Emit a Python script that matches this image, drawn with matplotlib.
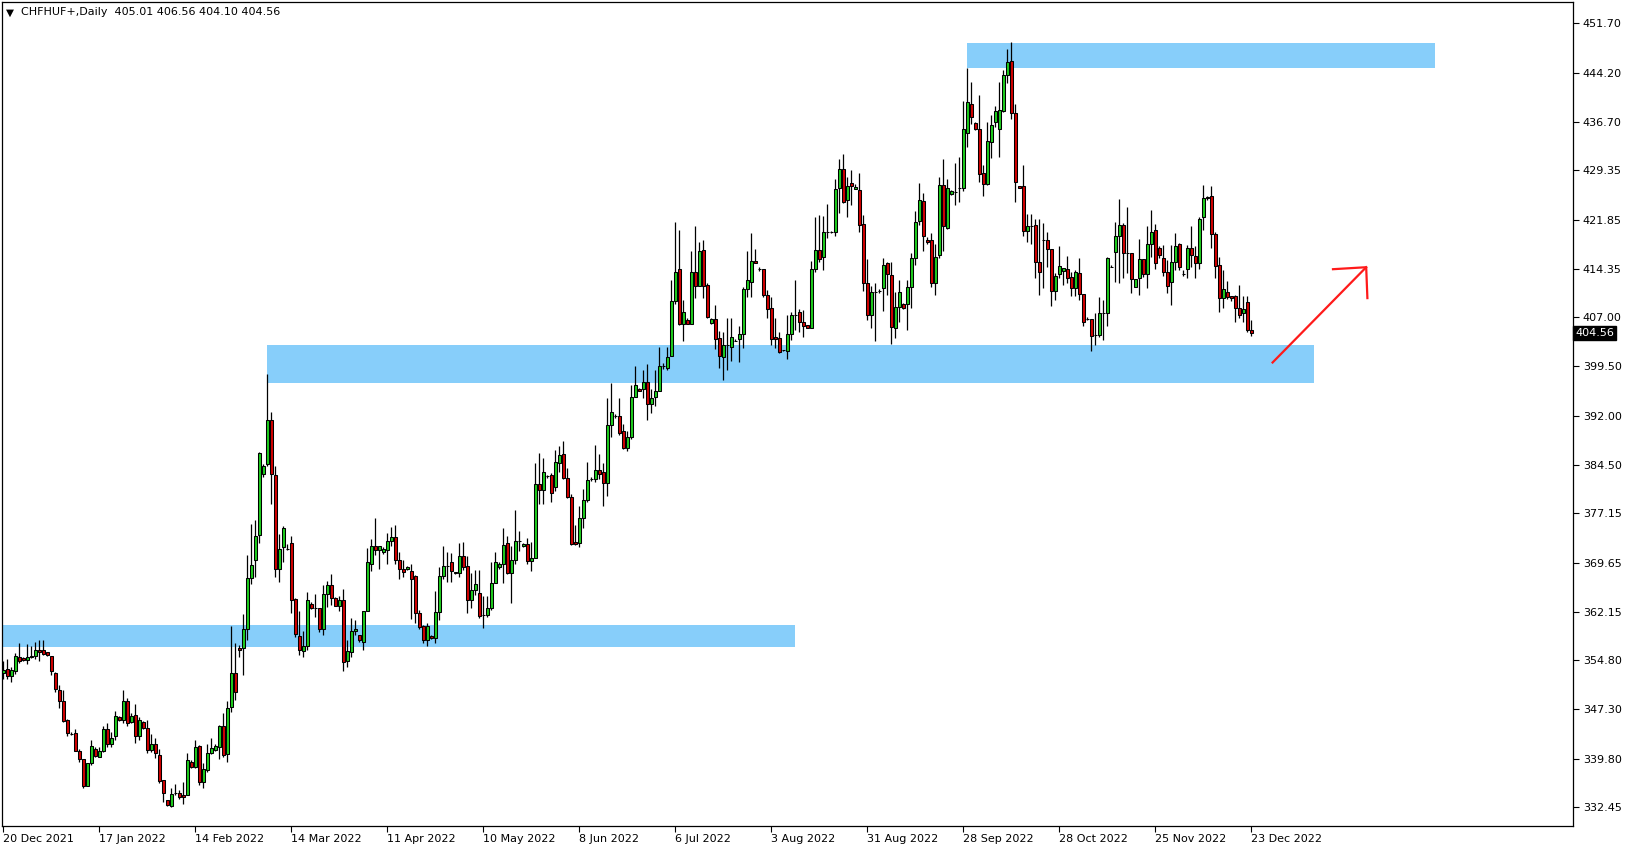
import numpy as np
import matplotlib.pyplot as plt
from matplotlib.patches import Rectangle
from matplotlib.transforms import blended_transform_factory

# CHFHUF+ daily candles, 20 Dec 2021 .. 23 Dec 2022
opens = [
    352.8, 353.4, 352.4, 353.2, 355.2, 355.1, 354.8, 355.2, 355.5, 356.4,
    356.3, 356.1, 355.5, 352.8, 350.3, 348.5, 345.7, 343.6, 343.7, 341.0,
    339.7, 335.7, 339.1, 341.2, 340.0, 341.0, 344.3, 342.1, 343.2, 346.2,
    345.7, 348.6, 345.4, 346.4, 343.2, 345.4, 344.5, 341.1, 342.1, 340.4,
    336.5, 333.5, 332.6, 334.5, 334.5, 334.2, 334.2, 339.3, 338.6, 341.7,
    336.3, 338.1, 340.6, 341.1, 341.6, 344.8, 340.5, 347.6, 352.9, 356.7,
    356.6, 359.6, 367.3, 370.1, 373.8, 383.2, 384.6, 391.4, 383.0, 368.6,
    372.0, 371.7, 372.6, 364.1, 358.5, 356.2, 356.9, 363.4, 362.8, 362.7,
    359.6, 364.8, 366.3, 364.2, 363.1, 364.0, 354.6, 356.0, 359.3, 358.6,
    357.5, 362.3, 369.5, 372.2, 371.6, 371.2, 371.6, 373.0, 373.6, 370.0,
    368.6, 368.6, 368.4, 367.6, 361.9, 360.0, 357.8, 358.5, 358.1, 362.1,
    367.6, 369.1, 369.8, 368.2, 368.0, 370.7, 369.1, 364.0, 365.4, 365.0,
    361.7, 361.7, 362.7, 366.5, 369.0, 369.5, 372.6, 368.1, 370.1, 373.0,
    372.1, 372.5, 369.9, 370.4, 381.6, 380.7, 382.8, 383.0, 381.1, 384.8,
    386.1, 382.5, 379.6, 372.8, 372.7, 376.4, 379.1, 382.4, 382.3, 383.7,
    383.4, 381.8, 390.6, 391.9, 391.9, 389.7, 387.1, 388.7, 394.9, 396.1,
    396.0, 397.1, 393.8, 394.8, 395.8, 399.6, 399.3, 401.1, 409.4, 414.4,
    406.0, 406.6, 406.0, 413.9, 411.8, 417.2, 411.9, 406.1, 406.7, 403.8,
    401.0, 402.7, 402.5, 403.4, 403.6, 404.5, 411.25, 412.3, 415.55, 414.4,
    414.3, 410.3, 408.4, 404.0, 403.8, 402.0, 401.9, 404.5, 407.4, 407.75,
    406.2, 405.8, 405.4, 414.3, 417.2, 416.2, 419.9, 419.9, 419.9, 426.6,
    429.6, 424.9, 427.4, 426.5, 426.3, 421.2, 412.15, 407.4, 410.8, 411.0,
    411.4, 415.2, 413.4, 405.3, 408.6, 409.0, 409.0, 411.65, 416.0, 421.7,
    424.7, 418.7, 418.7, 412.15, 416.4, 427.1, 420.6, 425.75, 426.0, 426.6,
    426.6, 435.1, 439.5, 436.5, 435.7, 428.9, 427.2, 433.6, 436.65, 435.7,
    438.4, 443.8, 446.0, 438.0, 426.9, 426.9, 420.1, 420.8, 421.1, 415.4,
    418.75, 418.7, 417.3, 411.0, 413.5, 414.1, 414.4, 413.1, 411.5, 413.7,
    410.6, 406.7, 406.7, 404.3, 404.3, 407.6, 407.7, 414.7, 416.9, 419.4,
    421.1, 416.7, 416.7, 411.65, 412.9, 415.8, 413.5, 418.1, 420.2, 417.5,
    416.0, 413.8, 412.3, 415.35, 418.1, 413.5, 414.4, 417.5, 416.3, 415.3,
    422.2, 425.3, 425.4, 419.6, 414.9, 409.9, 410.8, 410.2, 410.2, 408.35,
    407.7, 409.3, 405.01,
]
highs = [
    354.6, 354.9, 353.8, 355.9, 357.4, 355.2, 357.3, 356.9, 357.5, 357.9,
    357.9, 356.1, 355.5, 353.0, 351.0, 350.3, 345.9, 343.8, 344.3, 341.2,
    339.8, 339.2, 342.6, 341.5, 341.6, 344.7, 345.3, 343.8, 347.0, 346.3,
    350.2, 349.1, 346.7, 348.1, 346.1, 345.5, 345.7, 343.6, 342.9, 341.2,
    336.5, 333.5, 335.4, 335.9, 335.1, 336.2, 340.6, 339.6, 342.7, 341.9,
    339.1, 342.0, 342.9, 342.0, 344.9, 346.7, 348.6, 360.0, 357.4, 357.1,
    361.8, 370.8, 375.5, 376.2, 386.5, 384.7, 398.3, 392.5, 384.3, 374.0,
    375.2, 372.5, 373.7, 364.2, 362.3, 359.3, 365.2, 363.6, 364.9, 362.8,
    366.2, 366.9, 367.9, 364.4, 364.5, 365.6, 357.9, 361.2, 360.9, 358.6,
    362.2, 371.8, 373.3, 376.4, 372.2, 372.0, 374.2, 375.1, 375.4, 371.2,
    370.0, 369.1, 369.4, 367.8, 362.4, 360.1, 360.5, 358.6, 365.3, 368.9,
    372.1, 371.2, 371.1, 368.2, 372.7, 372.8, 370.6, 368.0, 368.5, 368.5,
    364.6, 364.6, 369.7, 371.3, 369.8, 374.9, 373.7, 372.1, 377.6, 374.4,
    372.7, 373.4, 372.8, 384.8, 386.3, 385.6, 383.0, 383.3, 386.8, 387.4,
    388.2, 384.1, 380.1, 375.4, 378.3, 380.8, 384.9, 382.7, 387.5, 386.2,
    384.8, 394.7, 397.0, 392.3, 394.7, 390.7, 389.7, 396.7, 399.6, 396.2,
    398.96, 399.8, 396.1, 398.96, 402.5, 400.0, 402.5, 412.7, 421.5, 420.3,
    409.6, 406.8, 417.0, 420.9, 418.5, 418.75, 412.2, 406.8, 408.85, 404.95,
    404.8, 406.8, 406.8, 403.6, 405.6, 411.65, 417.1, 419.8, 417.3, 414.7,
    414.3, 411.15, 410.1, 406.8, 404.8, 402.0, 407.3, 407.85, 412.7, 408.2,
    408.1, 405.8, 415.6, 422.2, 422.6, 422.4, 424.2, 420.1, 428.1, 431.0,
    431.9, 428.4, 429.4, 427.3, 428.9, 422.5, 415.8, 411.75, 412.25, 411.35,
    416.0, 415.35, 415.35, 410.9, 412.7, 409.2, 412.7, 416.7, 423.1, 427.4,
    425.85, 419.15, 419.8, 418.2, 428.4, 431.0, 428.1, 426.35, 430.4, 431.4,
    439.9, 445.0, 442.8, 436.65, 440.8, 430.2, 436.75, 437.7, 439.1, 442.8,
    444.6, 447.8, 448.9, 439.5, 426.9, 430.2, 422.65, 422.65, 421.9, 422.0,
    421.4, 420.0, 417.3, 413.7, 417.8, 414.5, 416.3, 413.8, 414.2, 416.0,
    410.6, 407.0, 406.7, 407.6, 410.0, 409.6, 416.1, 414.9, 421.5, 425.0,
    421.4, 423.7, 416.7, 412.8, 418.85, 415.8, 420.8, 423.3, 421.2, 417.8,
    418.0, 415.7, 418.0, 419.8, 418.3, 414.2, 418.0, 420.9, 417.8, 422.3,
    427.1, 425.4, 426.9, 420.0, 416.1, 414.2, 412.5, 410.2, 410.4, 411.9,
    410.2, 410.2, 406.56,
]
lows = [
    351.9, 352.0, 351.5, 352.7, 354.3, 354.7, 354.2, 355.1, 355.0, 354.7,
    355.6, 355.5, 352.5, 350.0, 347.5, 345.4, 343.3, 343.4, 340.9, 339.3,
    335.4, 335.7, 338.9, 340.1, 340.0, 340.8, 341.6, 341.6, 342.7, 345.6,
    345.3, 344.8, 345.2, 342.2, 342.6, 344.3, 340.6, 340.8, 339.9, 336.1,
    333.2, 332.6, 332.5, 334.2, 333.6, 332.9, 334.2, 338.4, 338.4, 335.8,
    335.4, 337.8, 340.5, 340.9, 339.8, 340.0, 339.3, 346.95, 348.7, 355.3,
    352.5, 357.9, 366.4, 367.5, 372.7, 382.7, 384.4, 378.6, 367.5, 366.7,
    369.8, 371.5, 361.9, 358.3, 355.6, 355.3, 356.3, 362.6, 361.3, 359.1,
    358.6, 362.9, 363.2, 363.0, 362.3, 353.2, 353.8, 355.2, 358.6, 357.5,
    356.3, 362.2, 368.3, 370.8, 368.7, 371.0, 369.5, 372.1, 369.5, 367.1,
    367.4, 368.5, 361.1, 360.5, 359.6, 357.4, 357.0, 358.0, 357.4, 360.9,
    367.2, 366.7, 366.7, 367.9, 367.5, 368.5, 362.0, 362.8, 364.7, 361.2,
    359.7, 361.4, 362.4, 366.5, 368.7, 366.6, 367.9, 363.5, 369.4, 371.4,
    372.0, 369.5, 368.4, 370.4, 378.6, 378.6, 382.5, 378.9, 380.6, 383.5,
    382.4, 379.4, 372.3, 372.3, 372.0, 374.9, 378.9, 382.1, 381.9, 382.3,
    378.2, 379.8, 388.8, 391.6, 389.1, 387.0, 386.7, 388.4, 394.8, 395.7,
    394.65, 391.35, 392.4, 393.5, 395.7, 399.1, 399.0, 401.1, 409.0, 405.8,
    403.4, 406.0, 406.0, 409.9, 411.8, 409.9, 406.8, 406.0, 402.2, 399.2,
    397.4, 398.96, 400.4, 403.3, 400.2, 402.3, 410.1, 410.1, 415.2, 414.1,
    410.1, 406.8, 402.7, 402.3, 401.5, 401.9, 400.6, 403.5, 405.05, 404.8,
    404.0, 405.3, 405.4, 413.9, 415.45, 414.2, 419.0, 419.8, 419.4, 422.8,
    424.3, 422.2, 424.0, 426.5, 419.9, 411.0, 406.5, 405.4, 403.4, 410.7,
    408.0, 410.3, 402.9, 403.8, 406.3, 408.2, 405.0, 408.45, 414.9, 421.0,
    417.0, 418.2, 411.65, 410.4, 416.0, 417.0, 420.4, 425.6, 424.1, 424.6,
    426.2, 432.95, 436.4, 435.5, 427.5, 425.5, 427.1, 431.2, 435.9, 431.4,
    438.3, 442.6, 437.2, 424.6, 426.6, 419.35, 418.5, 418.1, 412.9, 410.3,
    411.4, 414.7, 408.75, 409.6, 412.9, 411.9, 412.15, 410.2, 410.2, 409.6,
    405.7, 406.5, 401.9, 402.8, 404.0, 403.5, 405.6, 414.6, 412.4, 412.25,
    412.9, 413.7, 410.7, 411.65, 410.3, 413.1, 411.5, 416.2, 414.3, 416.0,
    413.2, 410.7, 408.9, 414.2, 414.2, 413.2, 413.0, 414.7, 412.9, 414.4,
    420.3, 424.8, 417.6, 412.9, 407.8, 408.45, 409.7, 409.4, 406.3, 406.8,
    406.3, 404.8, 404.10,
]
closes = [
    353.3, 352.4, 353.3, 355.4, 354.6, 354.8, 355.2, 355.5, 356.4, 356.1,
    355.8, 355.6, 353.1, 350.4, 348.5, 345.6, 343.7, 343.6, 341.0, 339.7,
    335.7, 339.1, 341.8, 340.2, 341.0, 344.3, 342.1, 343.0, 346.3, 345.7,
    348.6, 345.2, 346.3, 343.2, 345.7, 344.4, 341.1, 342.0, 340.6, 336.4,
    334.6, 332.7, 334.4, 334.5, 333.9, 333.9, 339.6, 338.5, 341.6, 336.3,
    338.2, 340.6, 341.4, 341.8, 344.8, 340.3, 347.5, 352.8, 350.0, 356.4,
    359.6, 367.3, 369.3, 373.7, 386.3, 384.4, 391.4, 383.1, 368.6, 371.7,
    374.9, 371.7, 364.0, 358.7, 356.3, 357.0, 364.0, 362.8, 362.8, 359.6,
    364.8, 366.3, 364.2, 363.1, 364.0, 354.5, 356.2, 359.3, 359.5, 357.9,
    362.2, 369.7, 372.2, 371.6, 372.1, 371.7, 373.0, 373.5, 370.0, 368.6,
    368.2, 368.9, 367.1, 361.9, 359.9, 357.8, 360.0, 358.1, 362.1, 367.6,
    369.1, 369.2, 368.4, 368.1, 370.7, 368.9, 364.0, 365.5, 366.4, 361.5,
    361.7, 362.7, 366.5, 369.7, 369.4, 372.3, 368.1, 370.1, 372.9, 373.0,
    372.5, 369.9, 370.4, 381.6, 380.7, 383.4, 382.8, 380.3, 384.9, 386.0,
    382.5, 379.6, 372.5, 372.5, 376.4, 379.2, 382.2, 382.4, 383.7, 383.1,
    381.8, 390.6, 392.6, 391.9, 389.4, 387.1, 388.7, 394.8, 396.6, 395.8,
    397.1, 393.8, 394.65, 395.8, 399.6, 399.6, 400.9, 409.5, 413.9, 406.0,
    407.75, 406.0, 413.9, 411.8, 417.1, 411.8, 407.1, 406.7, 403.7, 401.1,
    402.8, 402.7, 404.0, 403.4, 404.5, 411.3, 412.6, 415.55, 415.2, 414.4,
    410.3, 408.2, 403.7, 403.6, 401.75, 402.0, 404.5, 407.3, 407.4, 406.2,
    405.7, 405.4, 414.3, 417.2, 415.9, 419.9, 419.9, 420.0, 426.5, 429.6,
    424.6, 427.0, 426.9, 426.8, 421.1, 412.15, 407.4, 410.8, 410.8, 411.0,
    415.0, 413.5, 405.45, 408.5, 410.9, 408.35, 411.65, 416.0, 421.5, 424.9,
    419.4, 418.4, 412.15, 416.2, 427.1, 420.8, 426.6, 426.15, 426.0, 426.7,
    435.6, 439.75, 437.5, 435.6, 428.8, 427.2, 433.8, 436.2, 438.4, 438.5,
    443.8, 445.8, 438.1, 427.6, 426.6, 420.1, 420.8, 420.8, 415.35, 413.8,
    418.75, 417.3, 411.0, 413.3, 414.8, 414.5, 413.0, 411.5, 413.8, 410.6,
    406.2, 406.7, 404.2, 404.3, 407.6, 407.6, 416.0, 414.7, 419.35, 421.0,
    416.7, 416.7, 412.8, 412.8, 415.8, 413.5, 418.1, 420.0, 415.2, 416.4,
    413.8, 411.8, 415.35, 417.8, 414.6, 413.5, 417.6, 416.4, 415.2, 422.0,
    425.2, 425.1, 419.6, 414.8, 409.9, 411.3, 410.1, 409.9, 408.35, 407.4,
    408.2, 405.0, 404.56,
]

# date labels, one every 24 bars
date_labels = ['20 Dec 2021', '17 Jan 2022', '14 Feb 2022', '14 Mar 2022',
               '11 Apr 2022', '10 May 2022', '8 Jun 2022', '6 Jul 2022',
               '3 Aug 2022', '31 Aug 2022', '28 Sep 2022', '28 Oct 2022',
               '25 Nov 2022', '23 Dec 2022']
price_ticks = [451.70, 444.20, 436.70, 429.35, 421.85, 414.35, 407.00, 399.50,
               392.00, 384.50, 377.15, 369.65, 362.15, 354.80, 347.30, 339.80,
               332.45]

# supply / demand zones: bar from, bar to, price low, price high
zone_start = [-5, 66.0, 240.9]
zone_end = [197.9, 327.7, 357.8]
zone_low = [356.75, 397.0, 445.0]
zone_high = [360.2, 402.8, 448.7]

# hand drawn arrow (bar, price)
arrow_x = [317.3, 340.7]
arrow_y = [400.1, 414.6]
head_x = [332.4, 340.7, 341.0]
head_y = [414.3, 414.6, 409.9]

o = np.array(opens)
h = np.array(highs)
l = np.array(lows)
c = np.array(closes)
x = np.arange(len(c))

fig = plt.figure(figsize=(16.29, 8.5), dpi=100)
ax = fig.add_axes([2 / 1629, 24 / 850, 1571 / 1629, 824 / 850])

for i in range(3):
    ax.add_patch(Rectangle((zone_start[i], zone_low[i]),
                           zone_end[i] - zone_start[i],
                           zone_high[i] - zone_low[i],
                           facecolor='#87cefa', edgecolor='none', zorder=0))

# wicks then bodies
ax.vlines(x, np.minimum(l, np.minimum(o, c)), np.maximum(h, np.maximum(o, c)),
          color='black', linewidth=0.9, zorder=2)
cols = np.where(c > o, '#1ecb1e', np.where(c < o, '#d00000', 'black'))
ax.bar(x, c - o, bottom=o, width=0.8, color=cols, edgecolor='black',
       linewidth=0.75, zorder=3)

ax.plot(arrow_x, arrow_y, color='#ff1a1a', linewidth=1.6, zorder=4)
ax.plot(head_x, head_y, color='#ff1a1a', linewidth=1.6, zorder=4)

ax.set_xlim(-0.33, 392.4)
ax.set_ylim(329.55, 454.97)

ax.set_xticks(np.arange(0, len(c), 24))
ax.set_xticklabels(date_labels, ha='left')
ax.yaxis.tick_right()
ax.set_yticks(price_ticks)
ax.set_yticklabels(['%.2f' % p for p in price_ticks])
ax.tick_params(axis='both', direction='out', length=4, width=0.8,
               labelsize=8, colors='black')
ax.tick_params(axis='x', pad=2)
ax.tick_params(axis='y', pad=3)
for s in ax.spines.values():
    s.set_linewidth(0.9)

ax.text(0.0026, 0.9873, '\u25bc', transform=ax.transAxes, fontsize=7.5,
        va='center', ha='left')
ax.text(0.0121, 0.9873, 'CHFHUF+,Daily  405.01 406.56 404.10 404.56',
        transform=ax.transAxes, fontsize=8, va='center', ha='left')

trans = blended_transform_factory(ax.transAxes, ax.transData)
ax.text(1.0015, c[-1], '%.2f' % c[-1], transform=trans, fontsize=8,
        color='white', va='center', ha='left',
        bbox=dict(facecolor='black', edgecolor='black', pad=1.5))

fig.savefig('out.png', dpi=100)
